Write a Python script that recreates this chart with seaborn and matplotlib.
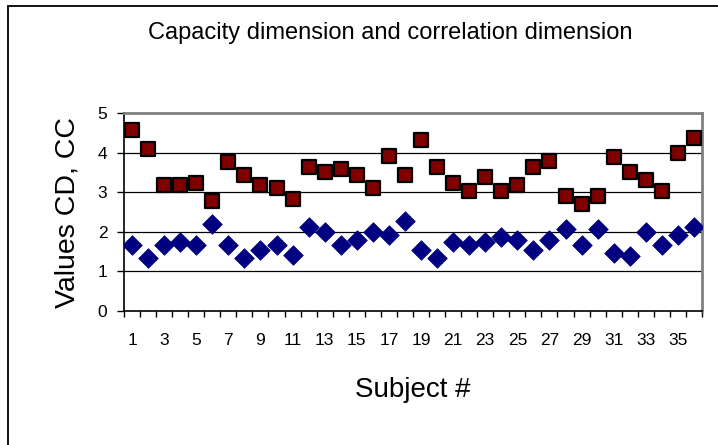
import matplotlib
matplotlib.use("Agg")
import matplotlib.pyplot as plt
from matplotlib.patches import Rectangle
from matplotlib.ticker import FixedLocator, NullFormatter
import seaborn as sns
import pandas as pd

subjects = list(range(1, 37))
cd_values = [4.58, 4.10, 3.17, 3.17, 3.23, 2.77, 3.77, 3.43, 3.17, 3.10, 2.83, 3.63,
             3.52, 3.58, 3.43, 3.10, 3.92, 3.43, 4.32, 3.64, 3.23, 3.04, 3.38, 3.04,
             3.17, 3.64, 3.78, 2.90, 2.71, 2.90, 3.90, 3.52, 3.31, 3.04, 3.98, 4.38]
cc_values = [1.67, 1.33, 1.67, 1.73, 1.67, 2.20, 1.67, 1.33, 1.53, 1.67, 1.42, 2.13,
             2.00, 1.67, 1.80, 2.00, 1.93, 2.28, 1.53, 1.33, 1.73, 1.67, 1.73, 1.88,
             1.80, 1.53, 1.80, 2.08, 1.67, 2.08, 1.46, 1.40, 2.00, 1.67, 1.93, 2.13]
x_tick_labels = [str(i) for i in range(1, 37, 2)]
y_ticks = [0, 1, 2, 3, 4, 5]

sns.set_theme(style="white")
plt.rcParams['font.family'] = ['Liberation Sans', 'DejaVu Sans']
plt.rcParams['text.color'] = 'black'
plt.rcParams['axes.labelcolor'] = 'black'
plt.rcParams['xtick.color'] = 'black'
plt.rcParams['ytick.color'] = 'black'

df_cd = pd.DataFrame({"Subject": subjects, "Value": cd_values})
df_cc = pd.DataFrame({"Subject": subjects, "Value": cc_values})

fig = plt.figure(figsize=(7.18, 4.45), dpi=100)
ax = fig.add_axes([124/718, 1-311/445, (702-124)/718, (311-113)/445])

for y in [1, 2, 3, 4]:
    ax.axhline(y, color="black", lw=0.9, zorder=0)

sns.scatterplot(data=df_cd, x="Subject", y="Value", marker="s", s=100,
                color="#800000", edgecolor="black", linewidth=1.6, ax=ax,
                zorder=3, legend=False)
sns.scatterplot(data=df_cc, x="Subject", y="Value", marker="D", s=100,
                color="#000080", edgecolor="#000080", linewidth=0.5, ax=ax,
                zorder=3, legend=False)

ax.set_xlim(0.5, 36.5)
ax.set_ylim(0, 5)
ax.set_yticks(y_ticks)
ax.set_yticklabels([str(v) for v in y_ticks])
ax.set_xticks(list(range(1, 37, 2)))
ax.set_xticklabels(x_tick_labels)
ax.xaxis.set_minor_locator(FixedLocator([i + 0.5 for i in range(0, 37)]))
ax.xaxis.set_minor_formatter(NullFormatter())
ax.tick_params(axis="x", which="major", length=0, pad=16, labelsize=12.5)
ax.tick_params(axis="x", which="minor", length=4, width=1, direction="out",
               color="black", bottom=True)
ax.tick_params(axis="y", which="major", length=5, width=1, direction="out",
               color="black", pad=7, labelsize=12.5, left=True)

for side in ["left", "bottom"]:
    ax.spines[side].set_color("black")
    ax.spines[side].set_linewidth(1.2)
for side in ["top", "right"]:
    ax.spines[side].set_color("#808080")
    ax.spines[side].set_linewidth(2)

ax.set_xlabel("Subject #", fontsize=20, labelpad=21)
ax.set_ylabel("Values CD, CC", fontsize=20.5, labelpad=12)
fig.text(390/718, 1-33/445, "Capacity dimension and correlation dimension",
         ha="center", va="center", fontsize=17)

fig.add_artist(Rectangle((7.5/718, -0.2), 1.5, 1.2 - 6/445, transform=fig.transFigure,
                         fill=False, edgecolor="black", lw=1.3))

fig.savefig("out.png", dpi=100)
